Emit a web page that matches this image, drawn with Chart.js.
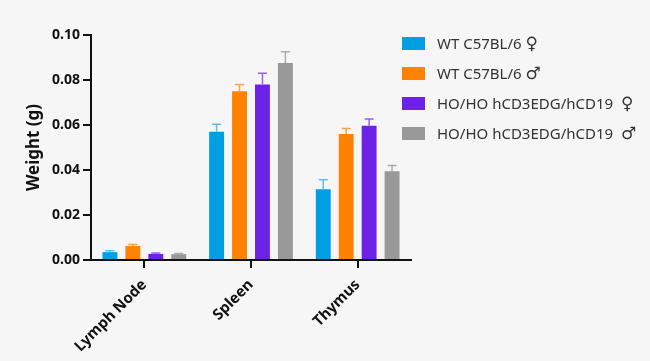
<!DOCTYPE html>
<html>
<head>
<meta charset="utf-8">
<script src="https://cdn.jsdelivr.net/npm/chart.js@4.4.1/dist/chart.umd.min.js"></script>
<style>
    html, body { margin: 0; padding: 0; background: #f6f6f6; }
    #wrap { position: relative; width: 650px; height: 361px; }
    #legend { position: absolute; left: 402px; top: 28px; font-family: "Noto Sans", sans-serif; font-size: 15px; color: #333; }
    .row { display: flex; align-items: center; height: 30px; white-space: pre; }
    .box { width: 23px; height: 13px; margin-right: 12px; }
    .sym { font-family: "DejaVu Sans", sans-serif; font-size: 17px; line-height: 15px; }
</style>
</head>
<body>
<div id="wrap">
    <canvas id="organChart" width="650" height="361"></canvas>
    <div id="legend"></div>
</div>
<script>
// ===== Data =====
const categories = ['Lymph Node', 'Spleen', 'Thymus'];
const seriesNames = ['WT C57BL/6 \u2640', 'WT C57BL/6 \u2642', 'HO/HO hCD3EDG/hCD19  \u2640', 'HO/HO hCD3EDG/hCD19  \u2642'];
const wtFemale = [0.0035, 0.057, 0.0315];
const wtMale = [0.0062, 0.075, 0.056];
const hoFemale = [0.0027, 0.078, 0.0597];
const hoMale = [0.0026, 0.0876, 0.0395];
const wtFemaleErr = [0.0006, 0.0033, 0.0042];
const wtMaleErr = [0.0007, 0.003, 0.0024];
const hoFemaleErr = [0.0004, 0.005, 0.003];
const hoMaleErr = [0.0003, 0.005, 0.0025];
const yTicks = [0, 0.02, 0.04, 0.06, 0.08, 0.10];

const colors = ['#009FE3', '#FF8200', '#6C22E6', '#999999'];
const errColors = ['#5CBDEB', '#FFA24A', '#9461EE', '#ABABAB'];

const values = [wtFemale, wtMale, hoFemale, hoMale];
const errors = [wtFemaleErr, wtMaleErr, hoFemaleErr, hoMaleErr];

// Upper error bars drawn from the bar elements and y scale
const errorBars = {
    id: 'errorBars',
    afterDatasetsDraw(chart) {
        const ctx = chart.ctx;
        const yScale = chart.scales.y;
        chart.data.datasets.forEach((ds, i) => {
            const meta = chart.getDatasetMeta(i);
            meta.data.forEach((bar, j) => {
                const top = yScale.getPixelForValue(ds.data[j] + errors[i][j]);
                ctx.save();
                ctx.strokeStyle = errColors[i];
                ctx.lineWidth = 1.5;
                ctx.beginPath();
                ctx.moveTo(bar.x, bar.y);
                ctx.lineTo(bar.x, top);
                ctx.moveTo(bar.x - 4.5, top);
                ctx.lineTo(bar.x + 4.5, top);
                ctx.stroke();
                ctx.restore();
            });
        });
    }
};

new Chart(document.getElementById('organChart'), {
    type: 'bar',
    data: {
        labels: categories,
        datasets: values.map((v, i) => ({
            label: seriesNames[i],
            data: v,
            backgroundColor: colors[i],
            borderWidth: 0,
            barPercentage: 0.65,
            categoryPercentage: 0.86
        }))
    },
    options: {
        responsive: false,
        animation: false,
        layout: { padding: { left: 24, top: 35, right: 239, bottom: 0 } },
        plugins: {
            legend: { display: false },
            tooltip: { enabled: false }
        },
        scales: {
            y: {
                min: 0,
                max: 0.1,
                afterBuildTicks: scale => { scale.ticks = yTicks.map(v => ({ value: v })); },
                afterFit: scale => { scale.width = 67; },
                border: { color: '#111', width: 2 },
                grid: { drawOnChartArea: false, color: '#111', lineWidth: 2, tickLength: 8 },
                ticks: {
                    color: '#111',
                    font: { family: 'Noto Sans', size: 14, weight: 'bold' },
                    padding: 3,
                    callback: v => Number(v).toFixed(2)
                },
                title: {
                    display: true,
                    text: 'Weight (g)',
                    color: '#111',
                    font: { family: 'Noto Sans', size: 17, weight: 'bold' },
                    padding: { top: 0, bottom: 2 }
                }
            },
            x: {
                afterFit: scale => { scale.height = 101; },
                border: { color: '#111', width: 2 },
                grid: { drawOnChartArea: false, offset: false, color: '#111', lineWidth: 2, tickLength: 8 },
                ticks: {
                    color: '#111',
                    font: { family: 'Noto Sans', size: 15, weight: 'bold' },
                    maxRotation: 45,
                    minRotation: 45,
                    padding: 8
                }
            }
        }
    },
    plugins: [errorBars]
});

// HTML legend (sex symbols drawn a bit larger, as in the original)
const legend = document.getElementById('legend');
seriesNames.forEach((name, i) => {
    const row = document.createElement('div');
    row.className = 'row';
    const label = name.replace(/([\u2640\u2642])/g, '<span class="sym">$1</span>');
    row.innerHTML = '<span class="box" style="background:' + colors[i] + '"></span><span>' + label + '</span>';
    legend.appendChild(row);
});
</script>
</body>
</html>
